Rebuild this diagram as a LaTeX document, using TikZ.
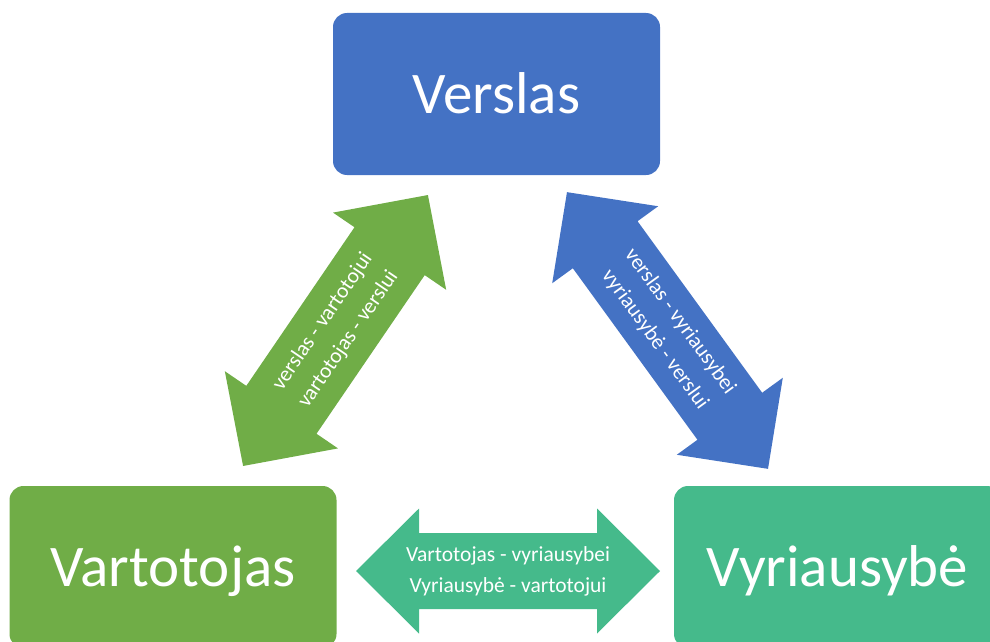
\documentclass[tikz,border=0pt]{standalone}
\usepackage{fontspec}
\setmainfont{Carlito}
\definecolor{vblue}{RGB}{68,114,196}
\definecolor{vgreen}{RGB}{112,173,71}
\definecolor{vteal}{RGB}{69,186,139}
\begin{document}
\begin{tikzpicture}[x=1pt,y=-1pt,
  box/.style={rectangle, rounded corners=14pt, minimum width=327pt, minimum height=162pt,
    inner sep=0pt, text=white, font=\fontsize{59}{70}\selectfont, text height=39pt, text depth=0pt},
  lbl/.style={text=white, align=center, font=\fontsize{21.5}{31}\selectfont, transform shape, inner sep=0pt},
  pics/twoway/.style n args={4}{code={
    \path[pic actions] ({-#1/2},0) -- ({-#1/2+#2},{#3/2}) -- ({-#1/2+#2},{#4/2})
      -- ({#1/2-#2},{#4/2}) -- ({#1/2-#2},{#3/2}) -- ({#1/2},0)
      -- ({#1/2-#2},{-#3/2}) -- ({#1/2-#2},{-#4/2}) -- ({-#1/2+#2},{-#4/2})
      -- ({-#1/2+#2},{-#3/2}) -- cycle;}}]
\useasboundingbox (0,0) rectangle (990,642);
\clip (0,0) rectangle (990,642);

\node[box, fill=vblue] (verslas) at (496.5,94) {Verslas};
\node[box, fill=vgreen] (vartotojas) at (173,567) {Vartotojas};
\node[box, fill=vteal] (vyriausybe) at (837.5,567) {Vyriausybė};

\begin{scope}[shift={(335.5,330.5)}, rotate=55.7]
  \pic[fill=vgreen, transform shape] {twoway={328}{68}{137}{85}};
  \node[lbl] (gtext) {verslas - vartotojui\\vartotojas - verslui};
\end{scope}

\begin{scope}[shift={(667.5,330.5)}, rotate=-54]
  \pic[fill=vblue, transform shape] {twoway={342}{65}{131}{80}};
  \node[lbl] (btext) {verslas - vyriausybei\\vyriausybė - verslui};
\end{scope}

\begin{scope}[shift={(508,571)}]
  \pic[fill=vteal] {twoway={304}{63}{125}{76}};
  \node[lbl] (ttext) {Vartotojas - vyriausybei\\Vyriausybė - vartotojui};
\end{scope}
\end{tikzpicture}
\end{document}
